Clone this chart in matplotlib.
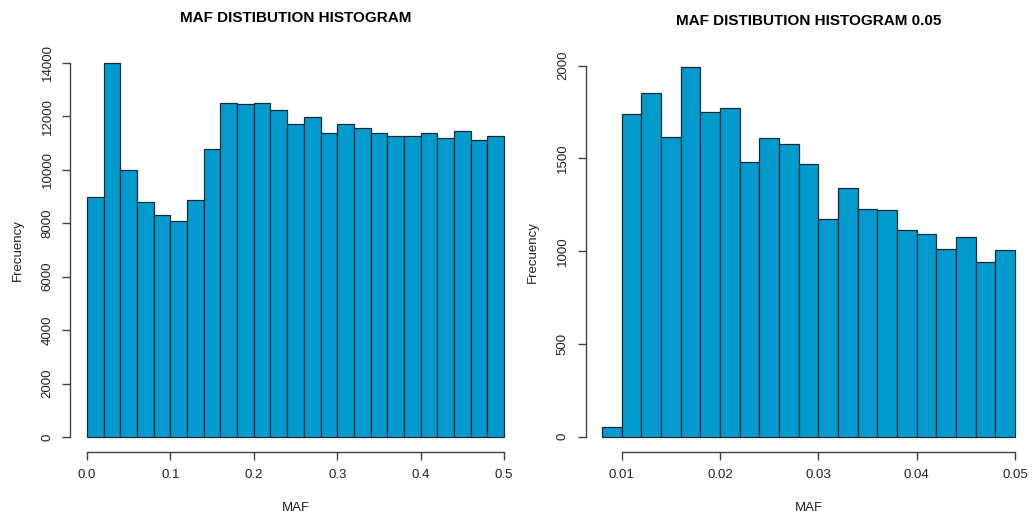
import matplotlib.pyplot as plt
import numpy as np

# histogram of all MAF values (bins of 0.02)
maf_edges = np.linspace(0.0, 0.5, 26)
maf_counts = [9000, 14000, 10000, 8800, 8320, 8100, 8880, 10780, 12500, 12450,
              12520, 12240, 11720, 11960, 11390, 11720, 11580, 11390, 11270, 11270,
              11390, 11180, 11470, 11130, 11280]

# histogram of MAF <= 0.05 (bins of 0.002)
low_edges = np.linspace(0.008, 0.05, 22)
low_counts = [52, 1741, 1853, 1617, 1995, 1750, 1772, 1483, 1608, 1580,
              1472, 1172, 1339, 1229, 1224, 1114, 1094, 1012, 1075, 940, 1006]

left_yticks = [0, 2000, 4000, 6000, 8000, 10000, 12000, 14000]
left_xticks = [0.0, 0.1, 0.2, 0.3, 0.4, 0.5]
right_yticks = [0, 500, 1000, 1500, 2000]
right_xticks = [0.01, 0.02, 0.03, 0.04, 0.05]

plt.rcParams['font.family'] = ['Liberation Sans', 'DejaVu Sans']

W, H = 1032, 517
fig = plt.figure(figsize=(W / 100, H / 100), dpi=100)

fill = '#009ACD'
axcol = '#444444'


def r_hist(ax, edges, counts, xticks, yticks, xfmt, title, xlim, ylim):
    ax.bar(edges[:-1], counts, width=np.diff(edges), align='edge',
           color=fill, edgecolor='#1a2a33', linewidth=0.9)
    ax.set_xlim(*xlim)
    ax.set_ylim(*ylim)
    for s in ['top', 'right']:
        ax.spines[s].set_visible(False)
    ax.spines['left'].set_bounds(yticks[0], yticks[-1])
    ax.spines['bottom'].set_bounds(xticks[0], xticks[-1])
    for s in ['left', 'bottom']:
        ax.spines[s].set_color(axcol)
        ax.spines[s].set_linewidth(1.0)
    ax.set_xticks(xticks)
    ax.set_xticklabels([xfmt.format(v) for v in xticks])
    ax.set_yticks(yticks)
    ax.set_yticklabels([str(v) for v in yticks], rotation=90, va='center')
    ax.tick_params(axis='both', length=6, width=1.0, color=axcol,
                   labelsize=9.5, labelcolor='#222222')
    ax.tick_params(axis='x', pad=6.5)
    ax.tick_params(axis='y', pad=6)
    ax.set_xlabel('MAF', fontsize=9.5, color='#222222', labelpad=15)
    ax.set_ylabel('Frecuency', fontsize=9.5, color='#222222', labelpad=13)
    ax.set_title(title, fontsize=11, fontweight='bold', pad=19)


ax1 = fig.add_axes([70.3 / W, (H - 452) / H, (520.7 - 70.3) / W, (452 - 48) / H])
r_hist(ax1, maf_edges, maf_counts, left_xticks, left_yticks, '{:.1f}',
       'MAF DISTIBUTION HISTOGRAM', (-0.02, 0.52), (-560, 14560))

ax2 = fig.add_axes([585.5 / W, (H - 451.5) / H, (1031.5 - 585.5) / W, (451.5 - 51.8) / H])
r_hist(ax2, low_edges, low_counts, right_xticks, right_yticks, '{:.2f}',
       'MAF DISTIBUTION HISTOGRAM 0.05', (0.00632, 0.05168), (-80, 2075))

fig.savefig('out.png', dpi=100)
